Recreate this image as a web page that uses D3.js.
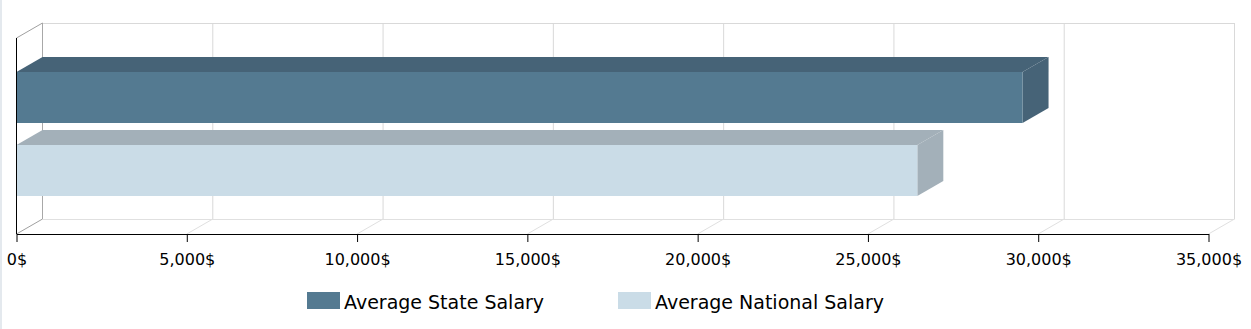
<!DOCTYPE html>
<html>
<head>
<meta charset="utf-8">
<script src="https://cdn.jsdelivr.net/npm/d3@7"></script>
<style>
  html, body { margin: 0; padding: 0; background: #fff; }
  svg { display: block; font-family: "DejaVu Sans", Verdana, sans-serif; }
</style>
</head>
<body>
<svg id="chart" width="1251" height="329"></svg>
<script>
// ---- data ----
const categories = ["Salary"];
const series = ["Average State Salary", "Average National Salary"];
const values = [29540, 26450];
const tickValues = [0, 5000, 10000, 15000, 20000, 25000, 30000, 35000];
const frontColors = ["#547a91", "#cadce7"];
const topColors = ["#466377", "#a3b0b9"];

// ---- layout ----
const W = 1251, H = 329;
const plotLeft = 16.5, plotRight = 1208.5, plotTop = 38, plotBottom = 234;
const dx = 26, dy = -15;

const svg = d3.select("#chart");

// left border strip
svg.append("rect").attr("x", 0).attr("y", 0).attr("width", 2).attr("height", H).attr("fill", "#e4e9ee");

const x = d3.scaleLinear().domain([0, 35000]).range([plotLeft, plotRight]);
const y0 = d3.scaleBand().domain(categories).range([plotTop, plotBottom]);
const y1 = d3.scaleBand().domain(series).range([34, 158]).paddingInner(0.3014);

// ---- 3D walls / grid ----
const grid = svg.append("g").attr("fill", "none").attr("stroke-width", 1);
const bx0 = x(0) + dx, backTop = plotTop + dy, backBottom = plotBottom + dy;
grid.append("line").attr("x1", bx0).attr("x2", x(35000) + dx).attr("y1", backTop + 0.5).attr("y2", backTop + 0.5).attr("stroke", "#d9d9d9");
grid.append("line").attr("x1", bx0).attr("x2", x(35000) + dx).attr("y1", backBottom + 0.5).attr("y2", backBottom + 0.5).attr("stroke", "#e0e0e0");
tickValues.forEach((t, i) => {
  grid.append("line")
    .attr("x1", x(t) + dx).attr("x2", x(t) + dx)
    .attr("y1", backTop).attr("y2", backBottom)
    .attr("stroke", i === 0 ? "#a8a8a8" : "#d9d9d9");
  grid.append("line")
    .attr("x1", x(t)).attr("y1", plotBottom)
    .attr("x2", x(t) + dx).attr("y2", backBottom)
    .attr("stroke", i === 0 ? "#a0a0a0" : "#e0e0e0");
});
grid.append("line").attr("x1", x(0)).attr("y1", plotTop).attr("x2", bx0).attr("y2", backTop).attr("stroke", "#a0a0a0");

// ---- bars ----
const bars = svg.append("g");
categories.forEach(cat => {
  series.forEach((s, i) => {
    const v = values[i];
    const yy = y0(cat) + y1(s);
    const h = y1.bandwidth();
    const x0 = x(0), x1 = x(v);
    bars.append("polygon")
      .attr("points", [[x0, yy], [x0 + dx, yy + dy], [x1 + dx, yy + dy], [x1, yy]].map(p => p.join(",")).join(" "))
      .attr("fill", topColors[i]);
    bars.append("polygon")
      .attr("points", [[x1, yy], [x1 + dx, yy + dy], [x1 + dx, yy + h + dy], [x1, yy + h]].map(p => p.join(",")).join(" "))
      .attr("fill", topColors[i]);
    bars.append("rect")
      .attr("x", x0).attr("y", yy)
      .attr("width", x1 - x0).attr("height", h)
      .attr("fill", frontColors[i]);
  });
});

// ---- axes ----
svg.append("line").attr("x1", x(0)).attr("x2", x(0)).attr("y1", plotTop).attr("y2", plotBottom).attr("stroke", "#000");

const xAxis = d3.axisBottom(x)
  .tickValues(tickValues)
  .tickFormat(d => d3.format(",")(d) + "$")
  .tickSizeInner(8)
  .tickSizeOuter(0)
  .tickPadding(12);
const ax = svg.append("g").attr("transform", `translate(0,${plotBottom})`).call(xAxis);
ax.select(".domain").attr("stroke", "#000");
ax.selectAll(".tick line").attr("stroke", "#000");
ax.selectAll(".tick text").attr("fill", "#000").style("font-size", "16px").style("font-family", "'DejaVu Sans', Verdana, sans-serif");

// ---- legend ----
const legend = svg.append("g");
series.forEach((s, i) => {
  const lx = 307 + i * 311;
  const g = legend.append("g").attr("transform", `translate(${lx},292)`);
  g.append("rect").attr("width", 33).attr("height", 17).attr("fill", frontColors[i]);
  g.append("text").attr("x", 37).attr("y", 16.5).text(s)
    .attr("fill", "#000").style("font-size", "19px");
});
</script>
</body>
</html>
